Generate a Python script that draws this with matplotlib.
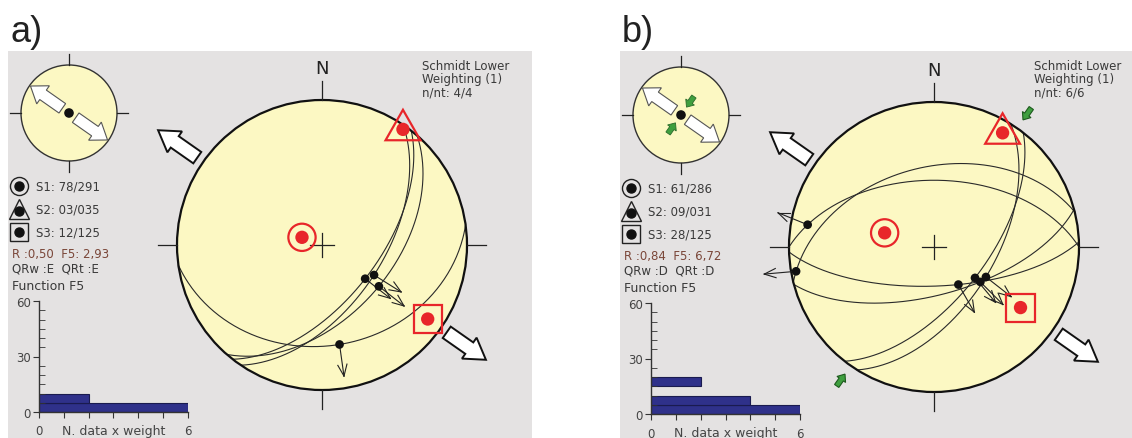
import matplotlib.pyplot as plt
import numpy as np
from matplotlib.patches import Circle, Polygon, Rectangle

# ---------------- panel a data ----------------
a_stress_plunge = [78, 3, 12]          # S1, S2, S3
a_stress_trend = [291, 35, 125]
a_dipdir = [128, 124, 131, 172]        # fault planes
a_dip = [59, 56, 50, 31]
a_lin_trend = [128, 120, 126, 170]     # slip lines on the planes
a_slip_az = [128, 122, 128, 172]       # hanging wall movement
a_shmin = 125
a_shmax = None
a_hist_bins = [0, 5]
a_hist_counts = [6, 2]
a_info = ['R :0,50  F5: 2,93', 'QRw :E  QRt :E']
a_nnt = '4/4'

# ---------------- panel b data ----------------
b_stress_plunge = [61, 9, 28]
b_stress_trend = [286, 31, 125]
b_dipdir = [122, 128, 178, 0, 346, 165]
b_dip = [56, 61, 68, 52, 44, 63]
b_lin_trend = [120, 127, 147, 280, 260, 127]
b_slip_az = [128, 140, 150, 292, 265, 135]
b_shmin = 125
b_shmax = 35
b_hist_bins = [0, 5, 15]
b_hist_counts = [6, 4, 2]
b_info = ['R :0,84  F5: 6,72', 'QRw :D  QRt :D']
b_nnt = '6/6'

W, H = 1132, 439
GRAY = '#e4e2e2'
YELLOW = '#fcf8c3'
RED = '#e8262a'
TXT = '#3a3a3a'
plt.rcParams['font.family'] = ['DejaVu Sans']

fig = plt.figure(figsize=(W / 100, H / 100), dpi=100)
bg = fig.add_axes([0, 0, 1, 1])
bg.set_xlim(0, W)
bg.set_ylim(H, 0)
bg.axis('off')


def px_axes(cx, cy, half):
    ax = fig.add_axes([(cx - half) / W, 1 - (cy + half) / H, 2 * half / W, 2 * half / H])
    ax.axis('off')
    return ax


def project(plunge, trend):
    plunge = np.asarray(plunge, float)
    trend = np.radians(np.asarray(trend, float))
    r = np.sqrt(2) * np.sin(np.radians(90 - plunge) / 2)
    return r * np.sin(trend), r * np.cos(trend)


def great_circle(dipdir, dip):
    dd, d = np.radians(dipdir), np.radians(dip)
    st = dd - np.pi / 2
    th = np.radians(np.linspace(0, 180, 181))
    e = np.cos(th) * np.sin(st) + np.sin(th) * np.cos(d) * np.sin(dd)
    n = np.cos(th) * np.cos(st) + np.sin(th) * np.cos(d) * np.cos(dd)
    z = np.sin(th) * np.sin(d)
    return project(np.degrees(np.arcsin(np.clip(z, -1, 1))), np.degrees(np.arctan2(e, n)))


def block_arrow(ax, az, r0, r1, w, hw, hl, fc, ec, lw, z=6):
    a = np.radians(az)
    u = np.array([np.sin(a), np.cos(a)])
    nrm = np.array([-u[1], u[0]])
    d = u * np.sign(r1 - r0)
    L = abs(r1 - r0)
    p0 = r0 * u
    pb = p0 + (L - hl) * d
    pts = [p0 + w * nrm, pb + w * nrm, pb + hw * nrm, r1 * u,
           pb - hw * nrm, pb - w * nrm, p0 - w * nrm]
    ax.add_patch(Polygon(pts, closed=True, fc=fc, ec=ec, lw=lw, zorder=z,
                         clip_on=False, joinstyle='miter'))


def slip_arrow(ax, x, y, az, L=0.22, hl=0.085):
    a = np.radians(az)
    x1, y1 = x + L * np.sin(a), y + L * np.cos(a)
    ax.plot([x, x1], [y, y1], color='#222', lw=0.8, zorder=4, clip_on=False)
    for s in (-1, 1):
        b = a + np.pi + s * np.radians(22)
        ax.plot([x1, x1 + hl * np.sin(b)], [y1, y1 + hl * np.cos(b)],
                color='#222', lw=0.8, zorder=4, clip_on=False)


def draw_panel(gx, gw, dy, label, sp, stt, dipdir, dip, lin_trend, slip_az,
               shmin, shmax, bins, counts, info, nnt):
    # background and title
    bg.add_patch(Rectangle((gx, 52), gw, H - 52, fc=GRAY, ec='none'))
    bg.text(gx + 2, 33, label, fontsize=26, family='Liberation Sans',
            color='#222', va='center', ha='left')

    # main stereonet
    R = 145
    cx, cy = gx + 314, 246 + dy
    ax = px_axes(cx, cy, 1.5 * R)
    ax.set_xlim(-1.5, 1.5)
    ax.set_ylim(-1.5, 1.5)
    ax.add_patch(Circle((0, 0), 1, fc=YELLOW, ec='none', zorder=1))
    for dd_, dp_ in zip(dipdir, dip):
        x, y = great_circle(dd_, dp_)
        ax.plot(x, y, color='#2a2a2a', lw=0.8, zorder=2)
    ax.add_patch(Circle((0, 0), 1, fc='none', ec='#111', lw=1.6, zorder=3))
    for ang in (0, 90, 180, 270):
        a = np.radians(ang)
        ax.plot([np.sin(a), 1.13 * np.sin(a)], [np.cos(a), 1.13 * np.cos(a)],
                color='#222', lw=0.9, zorder=3)
    ax.plot([-0.085, 0.085], [0, 0], color='#222', lw=0.9, zorder=3)
    ax.plot([0, 0], [-0.085, 0.085], color='#222', lw=0.9, zorder=3)
    ax.text(0, 1.22, 'N', ha='center', va='center', fontsize=13, color='#222')

    # slip lines with movement arrows
    for dd_, dp_, t_, s_ in zip(dipdir, dip, lin_trend, slip_az):
        p_ = np.degrees(np.arctan(np.tan(np.radians(dp_)) * np.cos(np.radians(t_ - dd_))))
        x, y = project(p_, t_)
        slip_arrow(ax, x, y, s_)
        ax.add_patch(Circle((x, y), 0.03, fc='#111', ec='none', zorder=5))

    # stress axes
    xs, ys = project(sp, stt)
    ax.add_patch(Circle((xs[0], ys[0]), 0.094, fc='none', ec=RED, lw=1.6, zorder=6))
    ax.add_patch(Polygon([(xs[1], ys[1] + 0.135), (xs[1] - 0.12, ys[1] - 0.075),
                          (xs[1] + 0.12, ys[1] - 0.075)], closed=True,
                         fc='none', ec=RED, lw=1.6, zorder=6))
    ax.add_patch(Rectangle((xs[2] - 0.097, ys[2] - 0.097), 0.194, 0.194,
                           fc='none', ec=RED, lw=1.6, zorder=6))
    for x, y in zip(xs, ys):
        ax.add_patch(Circle((x, y), 0.046, fc=RED, ec='none', zorder=7))

    # horizontal stress arrows
    for az in (shmin, shmin + 180):
        block_arrow(ax, az, 1.05, 1.38, 0.048, 0.088, 0.14, 'white', '#111', 1.4)
    if shmax is not None:
        for az in (shmax, shmax + 180):
            block_arrow(ax, az, 1.17, 1.07, 0.018, 0.036, 0.045, '#3f9f3f', '#1d5a1d', 0.8)

    # small stereonet (stress regime)
    r = 48
    sx, sy = gx + 61, 114 + dy
    sm = px_axes(sx, sy, 1.4 * r)
    sm.set_xlim(-1.4, 1.4)
    sm.set_ylim(-1.4, 1.4)
    sm.add_patch(Circle((0, 0), 1, fc=YELLOW, ec='#333', lw=1.0, zorder=1))
    for ang in (0, 90, 180, 270):
        a = np.radians(ang)
        sm.plot([np.sin(a), 1.22 * np.sin(a)], [np.cos(a), 1.22 * np.cos(a)],
                color='#222', lw=0.9)
    for az in (shmin, shmin + 180):
        block_arrow(sm, az, 0.17, 0.98, 0.12, 0.23, 0.32, 'white', '#555', 0.8)
    if shmax is not None:
        for az in (shmax, shmax + 180):
            block_arrow(sm, az, 0.47, 0.2, 0.055, 0.11, 0.13, '#3f9f3f', '#2a6a2a', 0.6)
    sm.add_patch(Circle((0, 0), 0.1, fc='#111', ec='none', zorder=7))

    # legend of stress axes
    lx, tx = gx + 11, gx + 28
    ly = [187 + dy, 210 + dy, 233 + dy]
    for k, (mk, ms) in enumerate([('o', 13), ('^', 14), ('s', 13)]):
        bg.plot(lx, ly[k], mk, ms=ms, mfc='none', mec='#222', mew=1.0)
        bg.plot(lx, ly[k] + (2 if mk == '^' else 0), 'o', ms=6.5, color='#111')
        bg.text(tx, ly[k], 'S%d: %02d/%03d' % (k + 1, sp[k], stt[k]),
                fontsize=8.5, color=TXT, va='center')
    bg.text(gx + 4, 255 + dy, info[0], fontsize=8.5, color='#7a4638', va='center')
    bg.text(gx + 4, 269 + dy, info[1], fontsize=8.5, color=TXT, va='center')
    bg.text(gx + 4, 287 + dy, 'Function F5', fontsize=9, color=TXT, va='center')
    bg.text(gx + 414, 60, 'Schmidt Lower\nWeighting (1)\nn/nt: ' + nnt,
            fontsize=8.5, color=TXT, va='top', ha='left', linespacing=1.05)

    # F5 histogram
    y0, y60 = 413 + dy, 302 + dy
    hx0, hx6 = gx + 31, gx + 180
    hx = fig.add_axes([hx0 / W, 1 - y0 / H, (hx6 - hx0) / W, (y0 - y60) / H])
    hx.patch.set_alpha(0)
    hx.barh(bins, counts, height=5, align='edge', color='#2f318a',
            edgecolor='#1a1b4f', lw=0.8)
    hx.set_xlim(0, 6)
    hx.set_ylim(0, 60)
    for s in ('top', 'right'):
        hx.spines[s].set_visible(False)
    for s in ('left', 'bottom'):
        hx.spines[s].set_color('#333')
        hx.spines[s].set_linewidth(1.0)
    hx.set_xticks(range(7))
    hx.set_xticklabels(['0', '', '', '', '', '', '6'])
    hx.set_yticks([0, 30, 60])
    hx.set_yticks(range(0, 61, 5), minor=True)
    hx.tick_params(axis='both', which='major', labelsize=8.5, colors='#333',
                   length=4, pad=2, labelcolor='#444')
    hx.tick_params(axis='x', which='major', pad=5)
    hx.tick_params(axis='y', which='minor', direction='in', length=4, colors='#333')
    hx.text(0.5, -0.17, 'N. data x weight', transform=hx.transAxes,
            ha='center', va='center', fontsize=9, color='#444')


draw_panel(8, 524, 0, 'a)', a_stress_plunge, a_stress_trend, a_dipdir, a_dip,
           a_lin_trend, a_slip_az, a_shmin, a_shmax, a_hist_bins, a_hist_counts,
           a_info, a_nnt)
draw_panel(620, 512, 2, 'b)', b_stress_plunge, b_stress_trend, b_dipdir, b_dip,
           b_lin_trend, b_slip_az, b_shmin, b_shmax, b_hist_bins, b_hist_counts,
           b_info, b_nnt)

fig.savefig('out.png', dpi=100)
